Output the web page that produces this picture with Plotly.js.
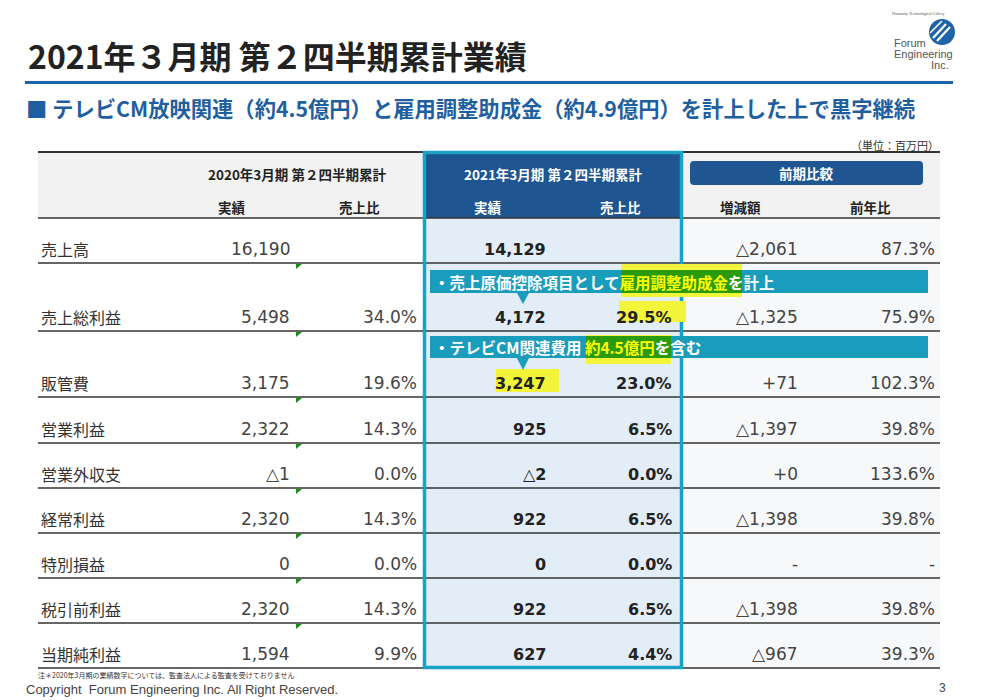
<!DOCTYPE html>
<html><head><meta charset="utf-8">
<script src="https://cdn.plot.ly/plotly-3.0.1.min.js"></script>
<style>html,body{margin:0;padding:0;background:#fff;}#chart{width:993px;height:700px;}</style>
</head><body><div id="chart"></div>
<script>
// ---- data ----
const rowLabels = ['売上高','売上総利益','販管費','営業利益','営業外収支','経常利益','特別損益','税引前利益','当期純利益'];
const prevActual = ['16,190','5,498','3,175','2,322','△1','2,320','0','2,320','1,594'];
const prevRatio  = ['','34.0%','19.6%','14.3%','0.0%','14.3%','0.0%','14.3%','9.9%'];
const curActual  = ['14,129','4,172','3,247','925','△2','922','0','922','627'];
const curRatio   = ['','29.5%','23.0%','6.5%','0.0%','6.5%','0.0%','6.5%','4.4%'];
const diffAmount = ['△2,061','△1,325','+71','△1,397','+0','△1,398','-','△1,398','△967'];
const yoyRatio   = ['87.3%','75.9%','102.3%','39.8%','133.6%','39.8%','-','39.8%','39.3%'];
const headPrev = '2020年3月期 第２四半期累計';
const headCur  = '2021年3月期 第２四半期累計';
const headCmp  = '前期比較';
const subHeads = ['実績','売上比','実績','売上比','増減額','前年比'];
const titleText = '2021年３月期 第２四半期累計業績';
const subtitleText = '■ テレビCM放映関連（約4.5億円）と雇用調整助成金（約4.9億円）を計上した上で黒字継続';
const note1 = '・売上原価控除項目として<span style="color:#ffff00">雇用調整助成金</span>を計上';
const note2 = '・テレビCM関連費用 <span style="color:#ffff00">約4.5億円</span>を含む';

// ---- layout constants ----
const CJK = 'Noto Sans CJK JP';
const NUM = 'DejaVu Sans';
const lineY = [218,263,331,397,443,488,533,578,623,668];
const colRight = [292,419,548,674,800,937];
const subHeadX = [232,359,488,620,740,870];
const TEAL = '#1a9cbc', NAVY = '#1f5591';

const shapes = [];
function rect(x0,x1,y0,y1,fill,extra){shapes.push(Object.assign({type:'rect',xref:'x',yref:'y',x0,x1,y0,y1,fillcolor:fill,line:{width:0},layer:'above'},extra||{}));}
function line(x0,x1,y0,y1,color,w){shapes.push({type:'line',xref:'x',yref:'y',x0,x1,y0,y1,line:{color,width:w},layer:'above'});}
function path(p,fill){shapes.push({type:'path',xref:'x',yref:'y',path:p,fillcolor:fill,line:{width:0},layer:'above'});}

// title underline
rect(25,953,81,84,'#1f64a8');
// backgrounds
rect(38,425,153,218,'#f2f2f2');
rect(681,940,153,218,'#f2f2f2');
rect(425,681,153,218,NAVY);
rect(425,681,218,668,'#e3edf8');
rect(681,940,218,668,'#f7f8fa');
// lines
line(38,940,152,152,'#333',2);
lineY.forEach(y=>line(38,940,y,y,'#333',1.5));
// green indicators
lineY.slice(1,9).forEach(y=>path(`M 296 ${y+1} L 302 ${y+1} L 296 ${y+6} Z`,'#1e8a1e'));
// teal border
shapes.push({type:'rect',xref:'x',yref:'y',x0:424.5,x1:681.5,y0:152.5,y1:667.5,line:{color:'#19a2c3',width:3.5},fillcolor:'rgba(0,0,0,0)',layer:'above'});
// value highlights
rect(619,686,301,322,'#f2f53a');
rect(496,559,369,392,'#f2f53a');
// callout brushes + bars
rect(621,742,264,297,'#f2f53a');
rect(586,671,335,364,'#f2f53a');
rect(430,928,270,293,TEAL);
rect(430,928,336,358,TEAL);
rect(621,742,270,293,'#2a9a0e');
rect(586,671,336,358,'#2a9a0e');
path('M 517 293 L 529 293 L 523 304 Z',TEAL);
path('M 517 358 L 529 358 L 523 370 Z',TEAL);
// 前期比較 box
path('M 694 161 L 919 161 Q 923 161 923 165 L 923 181 Q 923 185 919 185 L 694 185 Q 690 185 690 181 L 690 165 Q 690 161 694 161 Z',NAVY);
// logo
shapes.push({type:'circle',xref:'x',yref:'y',x0:929,x1:955,y0:19,y1:45,fillcolor:'#1f64a8',line:{width:0},layer:'above'});
line(933,946,38,24,'#ffffff',2.2);
line(937,950,41,27,'#ffffff',2.2);
line(930,942,33,21,'#ffffff',1.6);

const annotations = [];
function ann(x,y,text,font,xanchor){annotations.push({x,y,xref:'x',yref:'y',text,showarrow:false,xanchor:xanchor||'left',yanchor:'middle',font});}

ann(26,55,'<b>'+titleText+'</b>',{family:CJK,size:32,color:'#222'});
ann(24,107,'<b>'+subtitleText+'</b>',{family:CJK,size:21.3,color:'#1f5fa0'});
ann(941,145,'（単位：百万円）',{family:CJK,size:11,color:'#333'},'right');

// headers
ann(297,174,'<b>'+headPrev+'</b>',{family:CJK,size:13.5,color:'#222'},'center');
ann(553,174,'<b>'+headCur+'</b>',{family:CJK,size:13.5,color:'#fff'},'center');
ann(806,173,'<b>'+headCmp+'</b>',{family:CJK,size:13.5,color:'#fff'},'center');
subHeads.forEach((t,i)=>ann(subHeadX[i],207,'<b>'+t+'</b>',{family:CJK,size:13.5,color:(i===2||i===3)?'#fff':'#222'},'center'));

// rows
function boldNum(s){return s.replace(/[^△]+/g,m=>'<b>'+m+'</b>');}
rowLabels.forEach((lab,i)=>{
  const y = lineY[i+1]-14;
  ann(39,y,lab,{family:CJK,size:16,color:'#333'});
  ann(colRight[0],y,prevActual[i],{family:NUM,size:17,color:'#444'},'right');
  ann(colRight[1],y,prevRatio[i],{family:NUM,size:17,color:'#444'},'right');
  ann(colRight[2],y,boldNum(curActual[i]),{family:NUM,size:16,color:'#222'},'right');
  ann(colRight[3],y,boldNum(curRatio[i]),{family:NUM,size:16,color:'#222'},'right');
  ann(colRight[4],y,diffAmount[i],{family:NUM,size:17,color:'#444'},'right');
  ann(colRight[5],y,yoyRatio[i],{family:NUM,size:17,color:'#444'},'right');
});

// callout texts
ann(432,282,'<b>'+note1+'</b>',{family:CJK,size:15.5,color:'#fff'});
ann(432,347,'<b>'+note2+'</b>',{family:CJK,size:15.5,color:'#fff'});

// footer
ann(36,675,'注＊2020年3月期の業績数字については、監査法人による監査を受けておりません',{family:CJK,size:7,color:'#333'});
ann(24,689,'Copyright  Forum Engineering Inc. All Right Reserved.',{family:'Liberation Sans',size:13,color:'#444'});
ann(948,688,'3',{family:'Liberation Sans',size:12,color:'#444'},'right');

// logo text
ann(918,13,'Humanity Technological Gallery',{family:'Liberation Serif',size:4,color:'#555'},'center');
ann(892,43,'Forum',{family:'Liberation Sans',size:11,color:'#555'});
ann(892,54,'Engineering',{family:'Liberation Sans',size:11,color:'#555'});
ann(951,65,'Inc.',{family:'Liberation Sans',size:11,color:'#555'},'right');

const layout = {
  width:993,height:700,margin:{l:0,r:0,t:0,b:0},
  paper_bgcolor:'#fff',plot_bgcolor:'#fff',showlegend:false,
  xaxis:{range:[0,993],visible:false,fixedrange:true},
  yaxis:{range:[700,0],visible:false,fixedrange:true},
  shapes,annotations
};
Plotly.newPlot('chart',[{x:[0],y:[0],mode:'markers',marker:{opacity:0},hoverinfo:'skip'}],layout,{staticPlot:true,displayModeBar:false});
</script></body></html>
